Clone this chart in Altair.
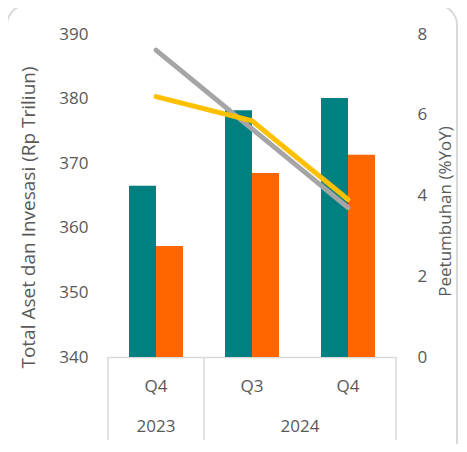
import altair as alt
import pandas as pd

# ---- data ----
quarters = ["Q4", "Q3", "Q4"]
years = ["2023", "2024", "2024"]
total_aset = [366.5, 378.2, 380.1]        # teal bars (left axis)
investasi = [357.2, 368.5, 371.3]         # orange bars (left axis)
growth_aset = [7.6, 5.65, 3.7]            # gray line (right axis)
growth_investasi = [6.45, 5.85, 3.9]      # yellow line (right axis)

bar_series = ["Total Aset", "Investasi"]
line_series = ["Pertumbuhan Aset", "Pertumbuhan Investasi"]
colors = ["#008080", "#FF6600", "#A5A5A5", "#FFC000"]
left_ticks = [340, 350, 360, 370, 380, 390]
right_ticks = [0, 2, 4, 6, 8]

keys = [f"{y}-{q}" for y, q in zip(years, quarters)]

bars_df = pd.DataFrame(
    [{"key": k, "series": bar_series[0], "value": v} for k, v in zip(keys, total_aset)]
    + [{"key": k, "series": bar_series[1], "value": v} for k, v in zip(keys, investasi)]
)
lines_df = pd.DataFrame(
    [{"key": k, "series": line_series[0], "growth": v} for k, v in zip(keys, growth_aset)]
    + [{"key": k, "series": line_series[1], "growth": v} for k, v in zip(keys, growth_investasi)]
)

# year groups
year_groups = {}
for y, k in zip(years, keys):
    year_groups.setdefault(y, []).append(k)
year_center_rows = []   # (year, anchor key, band position)
sep_start, sep_end = [], []
for y, ks in year_groups.items():
    n = len(ks)
    if n % 2 == 1:
        year_center_rows.append({"year": y, "key": ks[n // 2], "bp": 0.5})
    else:
        year_center_rows.append({"year": y, "key": ks[n // 2], "bp": 0.0})
    sep_start.append({"key": ks[0]})
sep_end.append({"key": keys[-1]})

TXT = "#595959"
FONT = "Open Sans"
W, H = 288, 323

xscale = alt.Scale(domain=keys, paddingInner=0, paddingOuter=0)
color_scale = alt.Scale(domain=bar_series + line_series, range=colors)

x_axis = alt.Axis(
    labelExpr="split(datum.value, '-')[1]",
    labelAngle=0,
    labelFontSize=17,
    labelColor=TXT,
    labelFont=FONT,
    labelBaseline="middle",
    labelPadding=29,
    ticks=False,
    tickSize=0,
    domainColor="#D9D9D9",
    domainWidth=1.5,
    grid=False,
)


def X(bp=None):
    kw = dict(sort=keys, scale=xscale, title=None, axis=x_axis)
    if bp is not None:
        kw["bandPosition"] = bp
    return alt.X("key:N", **kw)


bars = alt.Chart(bars_df).mark_bar(clip=True).encode(
    x=X(),
    xOffset=alt.XOffset("series:N", sort=bar_series,
                        scale=alt.Scale(paddingInner=0, paddingOuter=0.778)),
    y=alt.Y(
        "value:Q",
        scale=alt.Scale(domain=[340, 390], zero=False, nice=False),
        axis=alt.Axis(
            orient="left", values=left_ticks, grid=False, domain=False,
            ticks=False, tickSize=0, labelPadding=20, labelFontSize=17,
            labelColor=TXT, labelFont=FONT,
            title="Total Aset dan Invesasi (Rp Triliun)",
            titleFontSize=19, titleFontWeight="normal", titleColor=TXT,
            titleFont=FONT, titlePadding=20, titleY=183,
        ),
    ),
    color=alt.Color("series:N", scale=color_scale, legend=None),
)

lines = alt.Chart(lines_df).mark_line(strokeWidth=5, strokeCap="round").encode(
    x=X(),
    y=alt.Y(
        "growth:Q",
        scale=alt.Scale(domain=[0, 8], nice=False),
        axis=alt.Axis(
            orient="right", values=right_ticks, grid=False, domain=False,
            ticks=False, tickSize=0, labelPadding=21, labelFontSize=17,
            labelColor=TXT, labelFont=FONT,
            title="Peetumbuhan (%YoY)",
            titleFontSize=17, titleFontWeight="normal", titleColor=TXT,
            titleFont=FONT, titleAngle=270, titleBaseline="top",
            titlePadding=11, titleY=177,
        ),
    ),
    color=alt.Color("series:N", scale=color_scale, legend=None),
)

sep_color = "#D9D9D9"
sep1 = alt.Chart(pd.DataFrame(sep_start)).mark_rule(color=sep_color, strokeWidth=1.5).encode(
    x=X(bp=0), y=alt.value(H), y2=alt.value(H + 83)
)
sep2 = alt.Chart(pd.DataFrame(sep_end)).mark_rule(color=sep_color, strokeWidth=1.5).encode(
    x=X(bp=1), y=alt.value(H), y2=alt.value(H + 83)
)

year_layers = []
for bp in sorted(set(r["bp"] for r in year_center_rows)):
    rows = [r for r in year_center_rows if r["bp"] == bp]
    year_layers.append(
        alt.Chart(pd.DataFrame(rows)).mark_text(
            fontSize=17, color=TXT, font=FONT, baseline="middle", align="center"
        ).encode(x=X(bp=bp), y=alt.value(H + 70), text="year:N")
    )

border = alt.Chart(pd.DataFrame({"a": [0]})).mark_rect(
    fill=None, stroke="#D9D9D9", strokeWidth=2, cornerRadius=20
).encode(x=alt.value(-101), x2=alt.value(349), y=alt.value(-29), y2=alt.value(440))

chart = alt.layer(border, bars, lines, sep1, sep2, *year_layers).resolve_scale(
    y="independent"
).properties(
    width=W, height=H,
    autosize=alt.AutoSizeParams(type="none"),
    padding={"left": 100, "top": 26, "right": 63, "bottom": 87},
).configure_view(stroke=None)

chart.save("out.html", embed_options={"renderer": "svg", "actions": False})
